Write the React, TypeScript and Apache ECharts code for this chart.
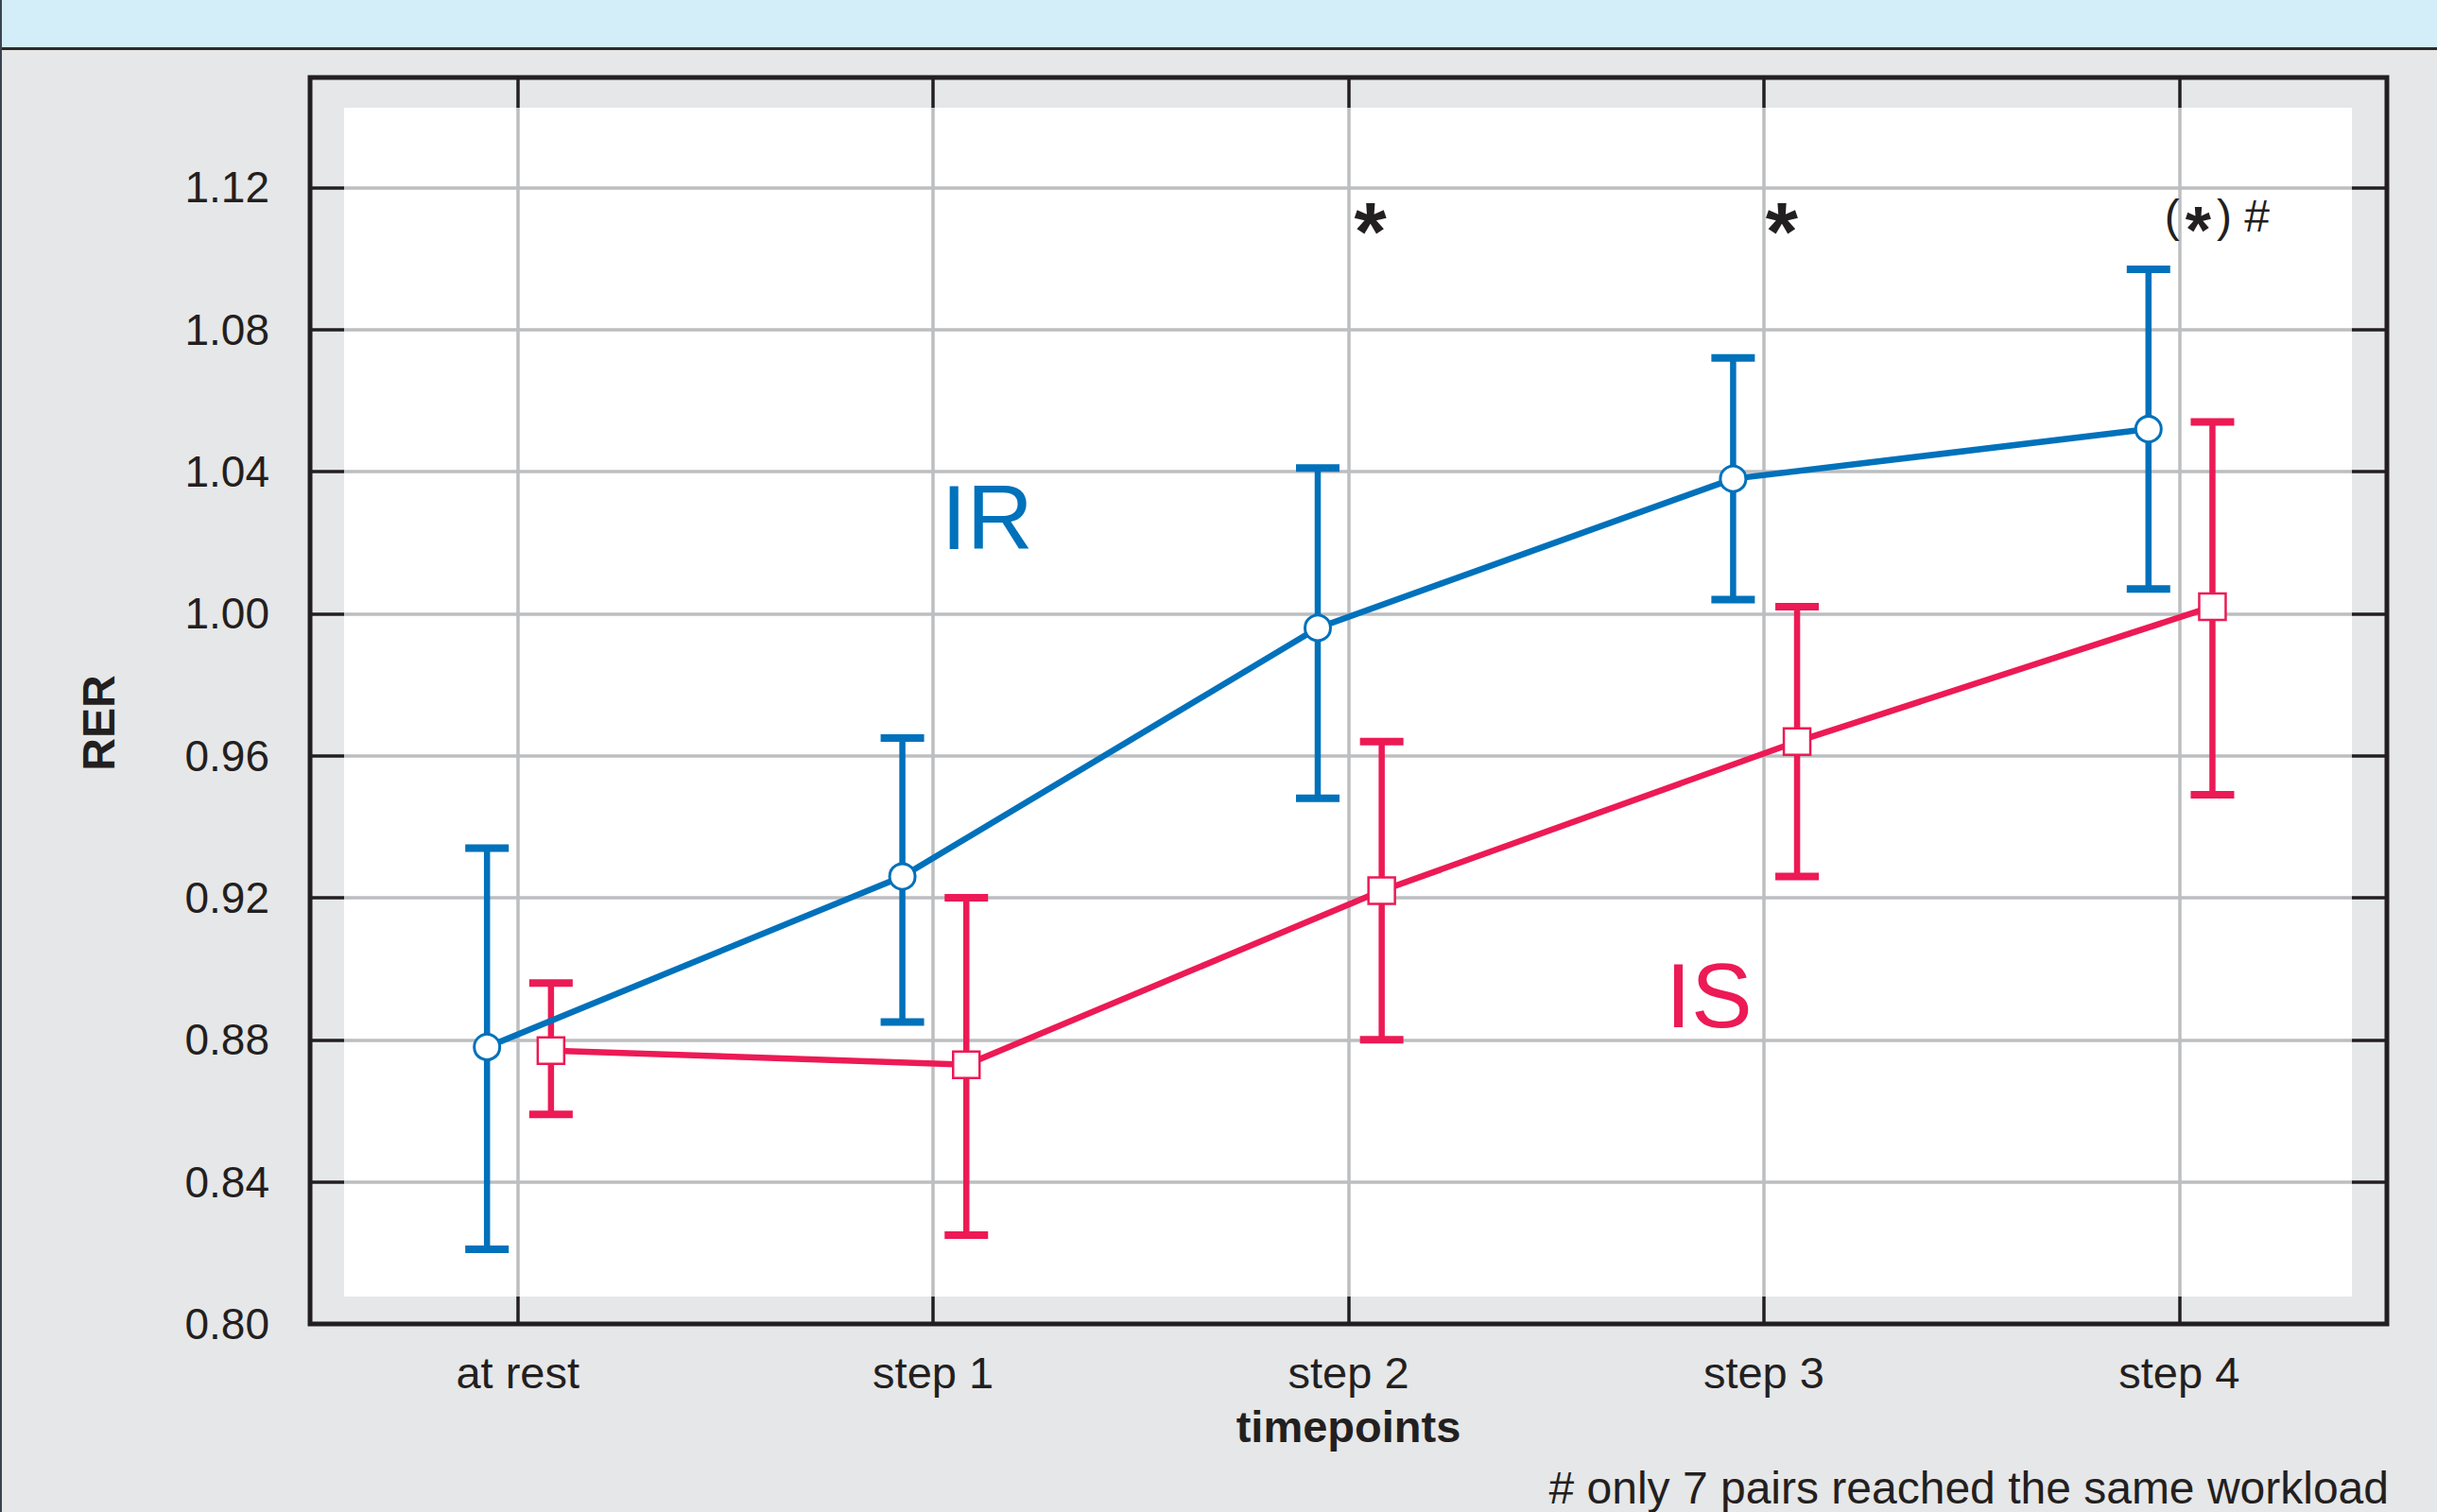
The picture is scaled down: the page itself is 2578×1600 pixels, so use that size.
import React, { useEffect, useRef } from "react";
import * as echarts from "echarts";

// ---------- data ----------
const CATEGORIES = ["at rest", "step 1", "step 2", "step 3", "step 4"];

const IR_MEAN = [0.878, 0.926, 0.996, 1.038, 1.052];
const IR_LOW = [0.821, 0.885, 0.948, 1.004, 1.007];
const IR_HIGH = [0.934, 0.965, 1.041, 1.072, 1.097];

const IS_MEAN = [0.877, 0.873, 0.922, 0.964, 1.002];
const IS_LOW = [0.859, 0.825, 0.88, 0.926, 0.949];
const IS_HIGH = [0.896, 0.92, 0.964, 1.002, 1.054];

const Y_MIN = 0.8;
const Y_MAX = 1.151;
const Y_STEP = 0.04;

// significance annotations (category index, rich text)
const ANNOT_CAT = [2, 3, 4];
const ANNOT_TEXT = ["{s|*}", "{s|*}", "{p|(}{m|*}{p|) #}"];
const ANNOT_LEVEL = 1.111;

// series name labels placed in data space [x, y]
const IR_LABEL_AT = [1.13, 1.027];
const IS_LABEL_AT = [2.868, 0.8925];

const FOOTNOTE = "# only 7 pairs reached the same workload";

// ---------- style ----------
const W = 2578;
const H = 1600;
const FONT = "'Liberation Sans', Arial, Helvetica, sans-serif";
const BLUE = "#0071bb";
const RED = "#ec1a55";
const INK = "#231f20";
const GRIDC = "#bcbec0";
const BG = "#e6e7e8";
const HEADER = "#d4eef9";

const GL = 328;
const GT = 82;
const GW = 2197;
const GH = 1319;
const M_TOP = 32;
const M_BOTTOM = 29;
const M_LEFT = 36;
const M_RIGHT = 37;

const IR_DX = -0.074;
const IS_DX = 0.08;
const CAP_W = 46;
const CAP_T = 8;
const STEM_W = 6.5;
const LINE_W = 6.5;

// per-annotation label offsets [dx, dy]
const ANNOT_OFFSET: [number, number][] = [
  [23, 12],
  [19, 12],
  [40, -4],
];

const ANNOT_RICH = {
  s: { fontSize: 88, fontWeight: "bold", color: INK, fontFamily: FONT },
  p: { fontSize: 48, color: INK, fontFamily: FONT },
  m: { fontSize: 70, fontWeight: "bold", color: INK, fontFamily: FONT, padding: [32, 6, 0, 6] },
};

function errorSeries(name: string, xs: number[], lo: number[], hi: number[], color: string) {
  return {
    type: "custom",
    name,
    xAxisIndex: 3,
    yAxisIndex: 0,
    z: 3,
    silent: true,
    encode: { x: 0, y: [1, 2] },
    data: xs.map((x, i) => [x, lo[i], hi[i]]),
    renderItem: (params: any, api: any) => {
      const x = api.value(0);
      const a = api.coord([x, api.value(1)]);
      const b = api.coord([x, api.value(2)]);
      const h = CAP_W / 2;
      return {
        type: "group",
        children: [
          { type: "line", shape: { x1: a[0], y1: a[1], x2: b[0], y2: b[1] }, style: { stroke: color, lineWidth: STEM_W } },
          { type: "line", shape: { x1: b[0] - h, y1: b[1], x2: b[0] + h, y2: b[1] }, style: { stroke: color, lineWidth: CAP_T } },
          { type: "line", shape: { x1: a[0] - h, y1: a[1], x2: a[0] + h, y2: a[1] }, style: { stroke: color, lineWidth: CAP_T } },
        ],
      };
    },
  };
}

function yFormatter(v: number) {
  const k = v / Y_STEP;
  return Math.abs(k - Math.round(k)) < 1e-6 ? v.toFixed(2) : "";
}

export default function App() {
  const ref = useRef<HTMLDivElement>(null);

  useEffect(() => {
    if (!ref.current) return;
    const chart = echarts.init(ref.current, null, { renderer: "svg" });

    const irX = CATEGORIES.map((_, i) => i + IR_DX);
    const isX = CATEGORIES.map((_, i) => i + IS_DX);

    const tickStyle = { color: INK, width: 3.5 };
    const wr = GL + GW - M_RIGHT;
    const wb = GT + GH - M_BOTTOM;

    const labelBase = { show: true, position: "inside", opacity: 1, fontFamily: FONT };

    const option: any = {
      animation: false,
      backgroundColor: BG,
      textStyle: { fontFamily: FONT },
      grid: {
        left: GL,
        top: GT,
        width: GW,
        height: GH,
        show: true,
        backgroundColor: "#ffffff",
        borderWidth: 0,
        containLabel: false,
        outerBoundsMode: "none",
      },
      xAxis: [
        {
          type: "category",
          data: CATEGORIES,
          position: "bottom",
          boundaryGap: true,
          axisLine: { show: false, onZero: false },
          axisTick: { show: false },
          axisLabel: { show: true, interval: 0, fontSize: 47, color: INK, margin: 28, fontFamily: FONT },
          splitLine: { show: true, alignWithLabel: true, interval: 0, lineStyle: { color: GRIDC, width: 3.5 } },
          name: "timepoints",
          nameLocation: "middle",
          nameGap: 85,
          nameTextStyle: { fontSize: 47, fontWeight: "bold", color: INK, fontFamily: FONT },
          z: 0,
        },
        {
          type: "category",
          data: CATEGORIES,
          position: "top",
          boundaryGap: true,
          axisLine: { show: false, onZero: false },
          axisTick: { show: true, inside: true, alignWithLabel: true, interval: 0, length: M_TOP, lineStyle: tickStyle },
          axisLabel: { show: false },
          splitLine: { show: false },
          z: 5,
        },
        {
          type: "category",
          data: CATEGORIES,
          position: "bottom",
          boundaryGap: true,
          axisLine: { show: false, onZero: false },
          axisTick: { show: true, inside: true, alignWithLabel: true, interval: 0, length: M_BOTTOM, lineStyle: tickStyle },
          axisLabel: { show: false },
          splitLine: { show: false },
          z: 5,
        },
        {
          type: "value",
          min: -0.5,
          max: 4.5,
          show: false,
          position: "bottom",
          axisLine: { onZero: false },
          splitLine: { show: false },
        },
      ],
      yAxis: [
        {
          type: "value",
          min: Y_MIN,
          max: Y_MAX,
          interval: Y_STEP,
          position: "left",
          axisLine: { show: false },
          axisTick: { show: false },
          axisLabel: { fontSize: 46, color: INK, margin: 43, formatter: yFormatter, showMaxLabel: false, fontFamily: FONT },
          splitLine: { show: true, lineStyle: { color: GRIDC, width: 3.5 } },
          name: "RER",
          nameLocation: "middle",
          nameGap: 200,
          nameTextStyle: { fontSize: 48, fontWeight: "bold", color: INK, fontFamily: FONT, padding: [0, 47, 0, 0] },
          z: 0,
        },
        {
          type: "value",
          min: Y_MIN,
          max: Y_MAX,
          interval: Y_STEP,
          position: "left",
          axisLine: { show: false },
          axisTick: { show: true, inside: true, length: M_LEFT, lineStyle: tickStyle },
          axisLabel: { show: false },
          splitLine: { show: false },
          z: 5,
        },
        {
          type: "value",
          min: Y_MIN,
          max: Y_MAX,
          interval: Y_STEP,
          position: "right",
          axisLine: { show: false },
          axisTick: { show: true, inside: true, length: M_RIGHT, lineStyle: tickStyle },
          axisLabel: { show: false },
          splitLine: { show: false },
          z: 5,
        },
      ],
      graphic: [
        { type: "rect", z: 1, silent: true, shape: { x: GL, y: GT, width: GW, height: M_TOP }, style: { fill: BG } },
        { type: "rect", z: 1, silent: true, shape: { x: GL, y: wb, width: GW, height: GT + GH - wb }, style: { fill: BG } },
        { type: "rect", z: 1, silent: true, shape: { x: GL, y: GT, width: M_LEFT, height: GH }, style: { fill: BG } },
        { type: "rect", z: 1, silent: true, shape: { x: wr, y: GT, width: GL + GW - wr, height: GH }, style: { fill: BG } },
        {
          type: "rect",
          z: 6,
          silent: true,
          shape: { x: GL, y: GT, width: GW, height: GH },
          style: { fill: "none", stroke: INK, lineWidth: 5 },
        },
        { type: "rect", z: 10, silent: true, shape: { x: 0, y: 0, width: W, height: 50 }, style: { fill: HEADER } },
        { type: "rect", z: 10, silent: true, shape: { x: 0, y: 50, width: W, height: 3 }, style: { fill: "#2b2b2b" } },
        { type: "rect", z: 10, silent: true, shape: { x: 0, y: 0, width: 2, height: H }, style: { fill: "#3a4450" } },
        {
          type: "text",
          z: 10,
          silent: true,
          x: 2527,
          y: 1574,
          style: {
            text: FOOTNOTE,
            fill: INK,
            fontSize: 48,
            fontFamily: FONT,
            align: "right",
            verticalAlign: "middle",
            textAlign: "right",
            textVerticalAlign: "middle",
          },
        },
      ],
      series: [
        errorSeries("IR error", irX, IR_LOW, IR_HIGH, BLUE),
        errorSeries("IS error", isX, IS_LOW, IS_HIGH, RED),
        {
          type: "line",
          name: "IR",
          xAxisIndex: 3,
          yAxisIndex: 0,
          z: 4,
          data: irX.map((x, i) => [x, IR_MEAN[i]]),
          symbol: "circle",
          symbolSize: 27,
          showAllSymbol: true,
          itemStyle: { color: "#ffffff", borderColor: BLUE, borderWidth: 3, opacity: 1 },
          lineStyle: { color: BLUE, width: LINE_W },
          emphasis: { disabled: true },
        },
        {
          type: "line",
          name: "IS",
          xAxisIndex: 3,
          yAxisIndex: 0,
          z: 4,
          data: isX.map((x, i) => [x, IS_MEAN[i]]),
          symbol: "rect",
          symbolSize: 28,
          showAllSymbol: true,
          itemStyle: { color: "#ffffff", borderColor: RED, borderWidth: 2.5, opacity: 1 },
          lineStyle: { color: RED, width: LINE_W },
          emphasis: { disabled: true },
        },
        {
          type: "scatter",
          name: "labels",
          xAxisIndex: 3,
          yAxisIndex: 0,
          z: 5,
          silent: true,
          symbolSize: 0.1,
          itemStyle: { color: "rgba(0,0,0,0)", opacity: 1 },
          emphasis: { disabled: true },
          data: [
            {
              value: IR_LABEL_AT,
              label: { ...labelBase, formatter: "IR", fontSize: 97, color: BLUE },
            },
            {
              value: IS_LABEL_AT,
              label: { ...labelBase, formatter: "IS", fontSize: 97, color: RED },
            },
            ...ANNOT_CAT.map((c, i) => ({
              value: [c, ANNOT_LEVEL],
              label: {
                ...labelBase,
                formatter: ANNOT_TEXT[i],
                offset: ANNOT_OFFSET[i],
                color: INK,
                rich: ANNOT_RICH,
              },
            })),
          ],
        },
      ],
    };

    chart.setOption(option);
    return () => chart.dispose();
  }, []);

  return <div ref={ref} style={{ position: "fixed", left: 0, top: 0, width: W, height: H }} />;
}
